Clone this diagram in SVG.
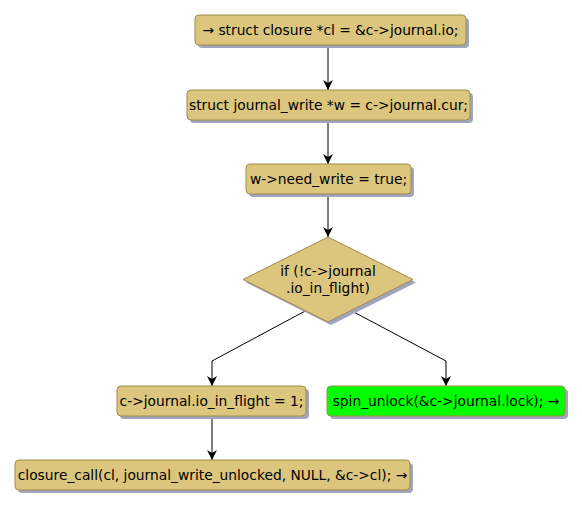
<svg xmlns="http://www.w3.org/2000/svg" width="582" height="508" viewBox="0 0 582 508">
<defs>
<style>
.n{fill:#dcc67e;stroke:#a08b4b;stroke-width:1}
.g{fill:#00ff00;stroke:#a08b4b;stroke-width:1}
.s{fill:#9fa7bf}
.t{font-family:"DejaVu Sans",sans-serif;font-size:13.8px;fill:#000}
.e{fill:none;stroke:#000;stroke-width:1}
</style>
<marker id="a" viewBox="0 0 10 10" refX="10" refY="5" markerWidth="10" markerHeight="10" markerUnits="userSpaceOnUse" orient="auto">
<path d="M0,0 L10,5 L0,10 L3,5 Z" fill="#000"/>
</marker>
</defs>
<rect width="582" height="508" fill="#fff"/>
<g id="connectors">
<path class="e" d="M328,45 V90" marker-end="url(#a)"/>
<path class="e" d="M328,120 V164" marker-end="url(#a)"/>
<path class="e" d="M328,194 V237" marker-end="url(#a)"/>
<path class="e" d="M307,310 L212,361 V386" marker-end="url(#a)"/>
<path class="e" d="M350,310 L446,361 V386" marker-end="url(#a)"/>
<path class="e" d="M212,416 V460" marker-end="url(#a)"/>
</g>
<g id="n1">
<rect class="s" x="198" y="18" width="271" height="30" rx="4"/>
<rect class="n" x="195" y="15" width="271" height="30" rx="4"/>
<text class="t" x="330.5" y="35" text-anchor="middle" textLength="256">→ struct closure *cl = &amp;c-&gt;journal.io;</text>
</g>
<g id="n2">
<rect class="s" x="190" y="93" width="283" height="30" rx="4"/>
<rect class="n" x="187" y="90" width="283" height="30" rx="4"/>
<text class="t" x="328.5" y="110" text-anchor="middle">struct journal_write *w = c-&gt;journal.cur;</text>
</g>
<g id="n3">
<rect class="s" x="249" y="167" width="165" height="30" rx="4"/>
<rect class="n" x="246" y="164" width="165" height="30" rx="4"/>
<text class="t" x="328.5" y="184" text-anchor="middle">w-&gt;need_write = true;</text>
</g>
<g id="d1">
<polygon class="s" points="331,240 416,282.5 331,325 246,282.5"/>
<polygon class="n" points="328,237 413,279.5 328,322 243,279.5"/>
<text class="t" x="328" y="276" text-anchor="middle">if (!c-&gt;journal</text>
<text class="t" x="328" y="293" text-anchor="middle">.io_in_flight)</text>
</g>
<g id="n4">
<rect class="s" x="120" y="389" width="189" height="30" rx="4"/>
<rect class="n" x="117" y="386" width="189" height="30" rx="4"/>
<text class="t" x="211.5" y="406" text-anchor="middle">c-&gt;journal.io_in_flight = 1;</text>
</g>
<g id="n5">
<rect class="s" x="330" y="389" width="238" height="30" rx="4"/>
<rect class="g" x="327" y="386" width="238" height="30" rx="4"/>
<text class="t" x="446" y="406" text-anchor="middle">spin_unlock(&amp;c-&gt;journal.lock); →</text>
</g>
<g id="n6">
<rect class="s" x="18" y="463" width="395" height="30" rx="4"/>
<rect class="n" x="15" y="460" width="395" height="30" rx="4"/>
<text class="t" x="212.5" y="480" text-anchor="middle">closure_call(cl, journal_write_unlocked, NULL, &amp;c-&gt;cl); →</text>
</g>
</svg>
